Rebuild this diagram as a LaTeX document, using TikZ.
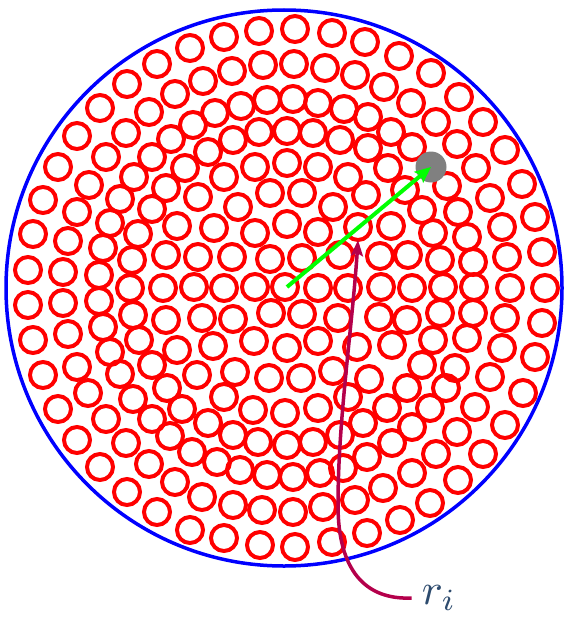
\documentclass[tikz,border=0pt]{standalone}
\usetikzlibrary{arrows.meta}
\definecolor{ringred}{RGB}{255,0,0}
\definecolor{rimblue}{RGB}{0,0,255}
\definecolor{dotgray}{RGB}{128,128,128}
\definecolor{arrowgreen}{RGB}{0,255,0}
\definecolor{crim}{RGB}{180,0,75}
\definecolor{labelcol}{RGB}{45,75,110}
\begin{document}
\begin{tikzpicture}[x=1pt,y=-1pt,
  particle/.style={draw=ringred, line width=4pt},
  rim/.style={draw=rimblue, line width=3.5pt},
  hilite/.style={circle, fill=dotgray, inner sep=0pt, minimum size=31pt},
  radarrow/.style={draw=arrowgreen, line width=4pt, -{Stealth[length=16pt,width=14pt,inset=3pt]}},
  callout/.style={draw=crim, line width=3.5pt, -{Stealth[length=16pt,width=12pt,inset=3pt]}},
  lbl/.style={text=labelcol, inner sep=0pt}]
\useasboundingbox (0,0) rectangle (564,618);
\draw[rim] (284,288) circle[radius=278pt];
\foreach \px/\py in {
224/37, 259/31, 295/29, 332/33, 365/42, 399/56, 431/73, 459/97, 483/122, 505/150, 522/184, 535/217, 542/252, 545/288, 542/323, 535/357, 523/393, 505/425, 483/454, 458/480, 430/503, 400/520, 367/533, 332/542, 295/547, 260/545, 224/538, 190/530, 157/512, 127/492, 100/467, 77/440, 58/409, 43/375, 33/340, 28/305, 28/270, 33/234, 43/200, 58/167, 77/136, 100/108, 127/84, 157/64, 190/48,
232/71, 263/65, 294/64, 325/68, 355/75, 384/87, 411/103, 436/122, 457/144, 476/168, 490/198, 502/227, 507/257, 510/288, 505/318, 502/348, 490/377, 475/407, 457/432, 436/454, 412/473, 383/488, 355/500, 323/507, 293/512, 262/510, 233/505, 202/497, 175/482, 149/464, 126/443, 106/419, 88/393, 77/367, 68/334, 63/303, 63/272, 68/241, 77/212, 89/185, 106/157, 126/133, 149/112, 175/94, 203/81,
215/113, 241/106, 267/100, 293/99, 318/103, 344/109, 368/117,
193/125, 233/140, 259/132, 287/131, 313/133, 340/140, 368/148,
208/152, 255/167, 287/163, 318/167, 348/177, 224/177,
185/168, 171/139, 152/157, 134/177, 166/188,
391/132, 412/147, 388/168, 447/186, 405/190,
120/199, 152/209, 110/223, 138/234, 177/226, 103/248, 132/260, 166/255, 99/275, 130/288, 163/288, 99/301, 133/315, 166/320, 103/327, 139/340, 177/350, 110/352, 152/365, 120/374,
198/197, 238/207, 270/193, 302/193, 333/207, 366/195,
214/228, 255/233, 287/224, 318/232, 358/227,
198/257, 232/257, 270/259, 302/258, 340/255,
194/287, 224/288, 255/287, 285/287, 318/288, 348/288,
202/318, 233/319, 271/313, 302/314, 338/318,
213/346, 254/341, 287/348, 318/341, 357/347,
197/375, 235/372, 269/378, 301/378, 333/371, 369/379,
422/210, 458/212, 391/226, 433/233, 467/237,
380/256, 408/255, 440/260, 473/262,
381/287, 412/288, 443/287, 474/287,
379/317, 407/320, 440/313, 473/313,
392/345, 433/340, 467/338,
422/365, 455/368,
167/388, 133/399, 182/409, 152/419, 170/436,
224/397, 253/410, 285/413, 318/408, 348/397,
208/423, 363/423, 233/435, 258/442, 287/445, 313/442, 340/435,
192/452, 367/457, 217/462, 240/470, 267/475, 293/477, 320/473, 343/468,
407/388, 446/388, 387/408, 430/408, 412/427, 392/443}
  \draw[particle] (\px,\py) circle[radius=13pt];
\node[hilite] (dot) at (431,167) {};
\coordinate (origin) at (287,287);
\draw[radarrow] (origin) -- (dot.center);
\node[lbl, inner xsep=10pt] (ri) at (439,598) {\scalebox{4.4}{$r_i$}};
\coordinate (target) at (358,240);
\draw[callout] (ri.west) .. controls (365,600) and (338,570) .. (338,505)
  .. controls (338,420) and (352,330) .. (target);
\end{tikzpicture}
\end{document}
